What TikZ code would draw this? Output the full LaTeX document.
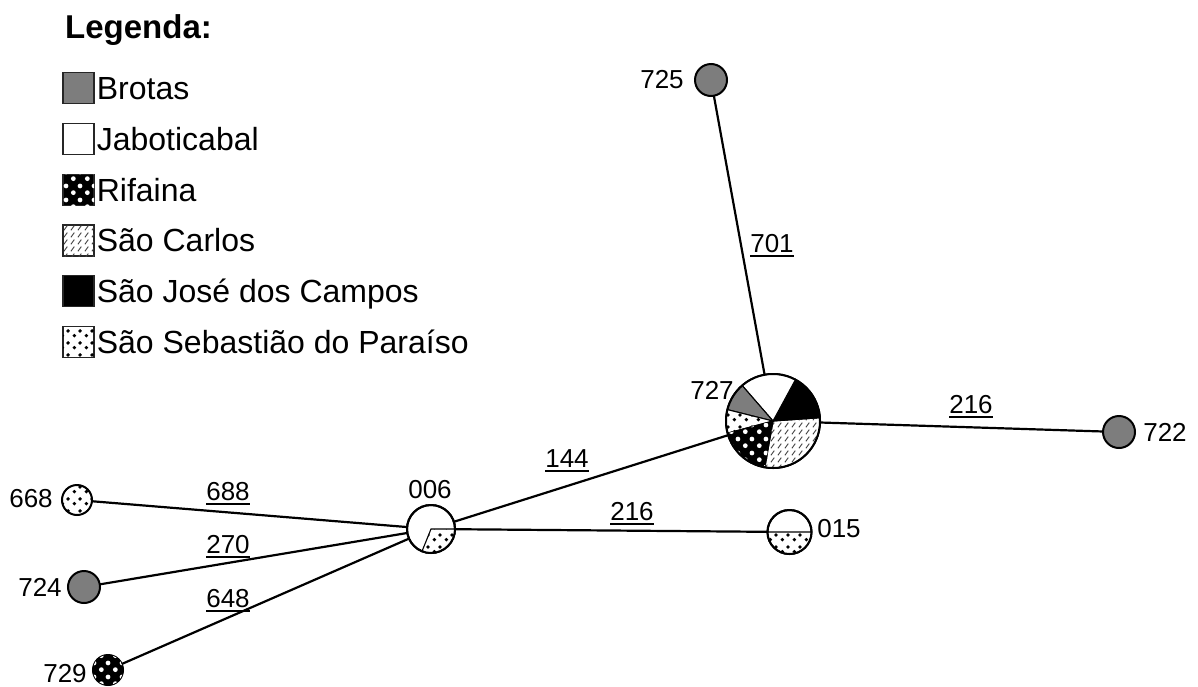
\documentclass[tikz,border=0pt]{standalone}
\usepackage{fontspec}
\setmainfont{Liberation Sans}
\usetikzlibrary{patterns}
\definecolor{brotasgray}{RGB}{125,125,125}
\pgfdeclarepatternformonly{bigdots}{\pgfqpoint{0pt}{0pt}}{\pgfqpoint{14pt}{14pt}}{\pgfqpoint{14pt}{14pt}}{%
  \pgfpathcircle{\pgfqpoint{3.5pt}{3.5pt}}{2.5pt}%
  \pgfpathcircle{\pgfqpoint{10.5pt}{10.5pt}}{2.5pt}%
  \pgfusepath{fill}}
\pgfdeclarepatternformonly{sparsedots}{\pgfqpoint{0pt}{0pt}}{\pgfqpoint{12pt}{12pt}}{\pgfqpoint{12pt}{12pt}}{%
  \pgfpathcircle{\pgfqpoint{2.5pt}{3.5pt}}{2pt}%
  \pgfpathcircle{\pgfqpoint{8.5pt}{8.5pt}}{2pt}%
  \pgfusepath{fill}}
\pgfdeclarepatternformonly{dashhatch}{\pgfqpoint{0pt}{0pt}}{\pgfqpoint{7pt}{7pt}}{\pgfqpoint{7pt}{7pt}}{%
  \pgfsetlinewidth{1pt}%
  \pgfpathmoveto{\pgfqpoint{1pt}{0.8pt}}%
  \pgfpathlineto{\pgfqpoint{4.8pt}{6pt}}%
  \pgfusepath{stroke}}
\newsavebox\ulbox
\newcommand\ulnum[1]{\sbox\ulbox{#1}\rlap{\rule[-5pt]{\wd\ulbox}{2pt}}\usebox\ulbox}
\newcommand\pieslice[5]{\path[#5] (#1) -- ++(#3:#2) arc[start angle=#3,end angle=#4,radius=#2] -- cycle;}
\tikzset{
  brotas/.style={fill=brotasgray},
  jabot/.style={fill=white},
  rifa/.style={fill=black, postaction={pattern=bigdots, pattern color=white}},
  scarlos/.style={fill=white, postaction={pattern=dashhatch, pattern color=black!75}},
  sjcampos/.style={fill=black},
  ssparaiso/.style={fill=white, postaction={pattern=sparsedots, pattern color=black}},
  hap/.style={circle, draw=black, line width=2pt, inner sep=0pt, outer sep=0pt},
  slice/.style={draw=black, line width=1.1pt},
  edge/.style={draw=black, line width=2.2pt},
  numlbl/.style={inner sep=0pt, font=\fontsize{26}{30}\selectfont},
  elbl/.style={inner sep=0pt, anchor=base, font=\fontsize{26}{30}\selectfont},
  legbox/.style={draw=black!85, line width=1.3pt, minimum size=31pt, inner sep=0pt},
  legtxt/.style={inner sep=0pt, anchor=base west, font=\fontsize{32}{36}\selectfont},
}
\begin{document}
\begin{tikzpicture}[x=1pt,y=1pt]
\useasboundingbox (0,0) rectangle (1198,-686);
\fill[white] (0,0) rectangle (1198,-686);

% ---------- legend ----------
\node[inner sep=0pt, anchor=base west, font=\fontsize{33}{38}\selectfont\bfseries] (legtitle) at (65,-38) {Legenda:};
\node[legbox, brotas]    (lb1) at (78.5,-88)  {};
\node[legbox, jabot]     (lb2) at (78.5,-139) {};
\node[legbox, rifa]      (lb3) at (78.5,-190) {};
\node[legbox, scarlos]   (lb4) at (78.5,-240.5) {};
\node[legbox, sjcampos]  (lb5) at (78.5,-291) {};
\node[legbox, ssparaiso] (lb6) at (78.5,-342) {};
\node[legtxt] (lt1) at ([xshift=2pt,yshift=-11pt]lb1.east) {Brotas};
\node[legtxt] (lt2) at ([xshift=2pt,yshift=-11pt]lb2.east) {Jaboticabal};
\node[legtxt] (lt3) at ([xshift=2pt,yshift=-11pt]lb3.east) {Rifaina};
\node[legtxt] (lt4) at ([xshift=2pt,yshift=-11pt]lb4.east) {São Carlos};
\node[legtxt] (lt5) at ([xshift=2pt,yshift=-11pt]lb5.east) {São José dos Campos};
\node[legtxt] (lt6) at ([xshift=2pt,yshift=-11pt]lb6.east) {São Sebastião do Paraíso};

% ---------- haplotype nodes ----------
\node[hap, brotas, minimum size=32pt] (n725) at (711,-80) {};
\node[hap, jabot, minimum size=94pt] (n727) at (773,-421) {};
\node[hap, brotas, minimum size=32pt] (n722) at (1119,-432) {};
\node[hap, jabot, minimum size=48pt] (n006) at (431,-529) {};
\node[hap, jabot, minimum size=44pt] (n015) at (789.5,-532) {};
\node[hap, ssparaiso, minimum size=30pt] (n668) at (77,-500) {};
\node[hap, brotas, minimum size=32pt] (n724) at (84,-587) {};
\node[hap, rifa, minimum size=30pt] (n729) at (108,-670) {};

% pie of 727
\pieslice{n727.center}{47}{-100}{4}{slice, scarlos}
\pieslice{n727.center}{47}{4}{61.5}{slice, sjcampos}
\pieslice{n727.center}{47}{61.5}{131}{slice, jabot}
\pieslice{n727.center}{47}{131}{166}{slice, brotas}
\pieslice{n727.center}{47}{166}{195}{slice, ssparaiso}
\pieslice{n727.center}{47}{195}{260}{slice, rifa}
\draw[line width=2pt] (n727.center) circle[radius=47];
% pie of 006
\pieslice{n006.center}{24}{-112}{0}{slice, ssparaiso}
\draw[line width=2pt] (n006.center) circle[radius=24];
% pie of 015
\pieslice{n015.center}{22}{180}{360}{slice, ssparaiso}
\draw[line width=2pt] (n015.center) circle[radius=22];

% ---------- connectors ----------
\draw[edge] (n725) -- (n727);
\draw[edge] (n727) -- (n722);
\draw[edge] (n006) -- (n727);
\draw[edge] (n006) -- (n015);
\draw[edge] (n668) -- (n006);
\draw[edge] (n724) -- (n006);
\draw[edge] (n729) -- (n006);

% ---------- node labels ----------
\node[numlbl] (l725) at (662,-80) {725};
\node[numlbl] (l727) at (712,-390) {727};
\node[numlbl] (l722) at (1165,-432) {722};
\node[numlbl] (l006) at (430,-490) {006};
\node[numlbl] (l015) at (839,-528.5) {015};
\node[numlbl] (l668) at (31,-499) {668};
\node[numlbl] (l724) at (40,-587) {724};
\node[numlbl] (l729) at (65,-674) {729};

% ---------- connector labels ----------
\node[elbl] (e701) at (772,-252) {\ulnum{701}};
\node[elbl] (e216a) at (971,-413) {\ulnum{216}};
\node[elbl] (e144) at (567,-467) {\ulnum{144}};
\node[elbl] (e216b) at (632,-520) {\ulnum{216}};
\node[elbl] (e688) at (228,-500) {\ulnum{688}};
\node[elbl] (e270) at (228,-553) {\ulnum{270}};
\node[elbl] (e648) at (228,-607) {\ulnum{648}};
\end{tikzpicture}
\end{document}
